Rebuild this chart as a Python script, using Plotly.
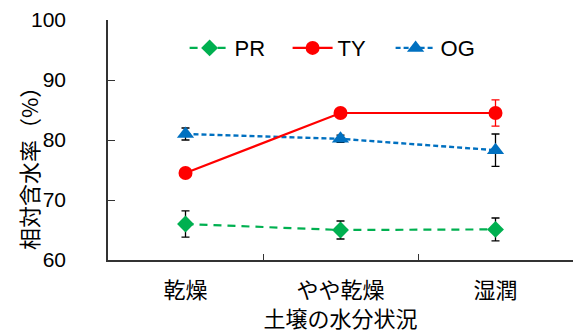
import plotly.graph_objects as go

categories = ["乾燥", "やや乾燥", "湿潤"]
pr_values = [66.0, 65.0, 65.1]
pr_err = [2.2, 1.5, 1.9]
ty_values = [74.5, 84.5, 84.5]
ty_err = [0.4, 0.6, 2.2]
og_values = [81.0, 80.2, 78.3]
og_err = [1.0, 0.6, 2.7]
y_ticks = [60, 70, 80, 90, 100]

FONT = "Arial, 'Liberation Sans', 'Noto Sans CJK JP', sans-serif"
CJK = "'Noto Sans CJK JP', sans-serif"

fig = go.Figure()
fig.add_trace(go.Scatter(
    x=categories, y=pr_values, name="PR", mode="lines+markers",
    line=dict(color="#00B050", width=2.2, dash="8px,6px"),
    marker=dict(symbol="diamond", size=13, color="#00B050"),
    error_y=dict(type="data", array=pr_err, color="#000000", thickness=1.3, width=4),
))
fig.add_trace(go.Scatter(
    x=categories, y=og_values, name="OG", mode="lines+markers",
    line=dict(color="#0070C0", width=2.4, dash="5px,3px"),
    marker=dict(symbol="triangle-up", size=15, color="#0070C0"),
    error_y=dict(type="data", array=og_err, color="#000000", thickness=1.3, width=4),
    showlegend=False,
))
fig.add_trace(go.Scatter(
    x=categories, y=ty_values, name="TY", mode="lines+markers",
    line=dict(color="#FF0000", width=2.2),
    marker=dict(symbol="circle", size=14, color="#FF0000"),
    error_y=dict(type="data", array=ty_err, color="#FF0000", thickness=1.3, width=4),
))
# legend entry for OG in the right order
fig.add_trace(go.Scatter(
    x=[None], y=[None], name="OG", mode="lines+markers",
    line=dict(color="#0070C0", width=2.4, dash="5px,3px"),
    marker=dict(symbol="triangle-up", size=15, color="#0070C0"),
))

fig.update_layout(
    width=577, height=333,
    margin=dict(l=108, r=4, t=20, b=73),
    paper_bgcolor="white", plot_bgcolor="white",
    font=dict(family=FONT, size=21, color="#000000"),
    showlegend=True,
    legend=dict(orientation="h", x=0.497, xanchor="center", y=0.883, yanchor="middle",
                bgcolor="rgba(0,0,0,0)", font=dict(size=22), itemwidth=40,
                entrywidth=48, traceorder="normal"),
    xaxis=dict(
        type="category", range=[-0.5, 2.5], showline=True, linecolor="#333333", linewidth=1.5,
        ticks="inside", tickson="boundaries", ticklen=6, tickcolor="#333333",
        showgrid=False, zeroline=False,
        tickfont=dict(family=CJK, size=22), ticklabelstandoff=10,
        title=dict(text="土壌の水分状況", font=dict(family=CJK, size=22), standoff=0),
    ),
    yaxis=dict(
        range=[60, 100], tickvals=y_ticks, showline=True, linecolor="#333333", linewidth=1.5,
        ticks="inside", ticklen=7, tickcolor="#333333", showgrid=False, zeroline=False,
        tickfont=dict(size=21), ticklabelstandoff=36,
    ),
    annotations=[dict(
        text="相対含水率（%）", textangle=-90, xref="paper", yref="paper",
        x=-0.172, y=0.404, xanchor="center", yanchor="middle", showarrow=False,
        font=dict(family=CJK, size=22, color="#000000"),
    )],
)

fig.write_html("out.html")
